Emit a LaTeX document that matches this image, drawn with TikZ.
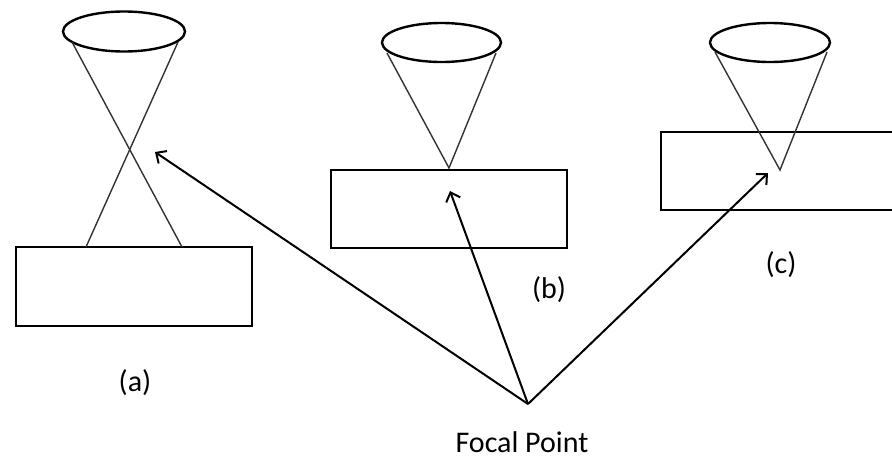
\documentclass[tikz,border=0pt]{standalone}
\usepackage{fontspec}
\setmainfont{Carlito}
\usetikzlibrary{arrows.meta,shapes.geometric}
\begin{document}
\begin{tikzpicture}[x=1pt,y=-1pt,
  box/.style={draw, line width=2.6pt, rectangle, inner sep=0pt, minimum width=236pt},
  lens/.style={draw, line width=2.4pt, ellipse, inner sep=0pt, minimum width=120pt, minimum height=39pt},
  cone/.style={draw=black!80, line width=1.4pt},
  ray/.style={draw, line width=2pt, -{Straight Barb[length=8pt,width=15pt,line width=2pt]}},
  lbl/.style={font=\fontsize{30}{35}\selectfont, inner sep=0pt}]
\clip (0,0) rectangle (892,459);
\fill[white] (0,0) rectangle (892,459);

% (a)
\node[box, minimum height=79pt] (ra) at (134,286.5) {};
\node[lens, minimum width=122pt, minimum height=40pt] (ea) at (124,31.5) {};
\coordinate (al1) at (72,42);
\coordinate (ar1) at (178,42);
\coordinate (al2) at (182,247);
\coordinate (ar2) at (86,247);
\draw[cone] (al1) -- (al2);
\draw[cone] (ar1) -- (ar2);
\coordinate (ta) at (155,152);

% (b)
\node[box, minimum height=78pt] (rb) at (449,209) {};
\node[lens, minimum width=119pt] (eb) at (441.5,42.5) {};
\coordinate (bl) at (387,53);
\coordinate (br) at (496,53);
\coordinate (bx) at (449,168);
\draw[cone] (bl) -- (bx) -- (br);
\coordinate (tb) at (450,191);

% (c)
\node[box, minimum height=78pt] (rc) at (779,171) {};
\node[lens] (ec) at (770,42.5) {};
\coordinate (cl) at (715,52);
\coordinate (cr) at (827,52);
\coordinate (cx) at (780,170);
\draw[cone] (cl) -- (cx) -- (cr);
\coordinate (tc) at (768,173);

% focal point
\coordinate (fp) at (528,404);
\draw[ray] (fp) -- (ta);
\draw[ray] (fp) -- (tb);
\draw[ray] (fp) -- (tc);

\node[lbl] (la) at (135,383) {(a)};
\node[lbl] (lb) at (549,290) {(b)};
\node[lbl] (lc) at (781,265) {(c)};
\node[lbl] (lf) at (522,442) {Focal Point};
\end{tikzpicture}
\end{document}
